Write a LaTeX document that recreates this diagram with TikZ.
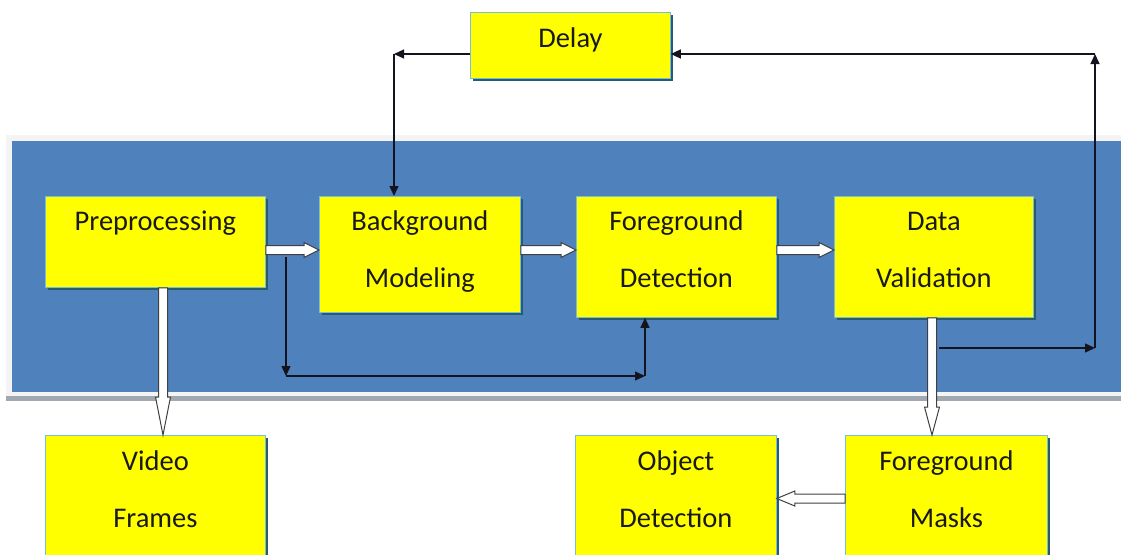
\documentclass[tikz,border=0pt]{standalone}
\usepackage{fontspec}
\setmainfont{Carlito}
\usetikzlibrary{calc,arrows.meta,shadows}

\definecolor{bandblue}{RGB}{79,129,189}
\definecolor{bandedge}{RGB}{244,244,244}
\definecolor{bandshade}{RGB}{160,168,178}
\definecolor{boxfill}{RGB}{255,255,0}
\definecolor{boxline}{RGB}{120,190,220}
\definecolor{boxshade}{RGB}{40,92,108}
\definecolor{wire}{RGB}{20,20,30}

\begin{document}
\begin{tikzpicture}[x=1pt,y=-1pt,
  box/.style={draw=boxline, fill=boxfill, line width=0.8pt, anchor=north west,
    inner sep=0pt,
    general shadow={fill=boxshade, shadow xshift=3pt, shadow yshift=-3pt}},
  lbl/.style={font=\fontsize{28.5pt}{34pt}\selectfont, anchor=base,
    inner sep=0pt, text=black!90},
  conn/.style={draw=wire, line width=1.3pt, -{Triangle[length=10pt,width=9pt]}},
  blockarrow/.style={draw=black!75, fill=white, line width=1pt,
    to path={
      ($(\tikztostart)!4.5pt!90:(\tikztotarget)$)
      -- ($(\tikztotarget)!#1!(\tikztostart)!4.5pt!-90:(\tikztostart)$)
      -- ($(\tikztotarget)!#1!(\tikztostart)!7.5pt!-90:(\tikztostart)$)
      -- (\tikztotarget)
      -- ($(\tikztotarget)!#1!(\tikztostart)!7.5pt!90:(\tikztostart)$)
      -- ($(\tikztotarget)!#1!(\tikztostart)!4.5pt!90:(\tikztostart)$)
      -- ($(\tikztostart)!4.5pt!-90:(\tikztotarget)$)
      -- cycle}},
  blockarrow/.default=15pt]

\useasboundingbox (0,0) rectangle (1121,554);

% blue processing band with its light frame and lower shade
\fill[bandshade] (6,139) rectangle (1126,401);
\fill[bandedge] (6,135) rectangle (1126,396);
\fill[bandblue] (12,141) rectangle (1126,392);

% boxes
\node[box, minimum width=200pt, minimum height=66pt]  (delay) at (470,12)  {};
\node[box, minimum width=220pt, minimum height=91pt]  (pre)   at (45,196)  {};
\node[box, minimum width=201pt, minimum height=116pt] (bm)    at (319,196) {};
\node[box, minimum width=200pt, minimum height=121pt] (fd)    at (576,196) {};
\node[box, minimum width=199pt, minimum height=121pt] (dv)    at (834,196) {};
\node[box, minimum width=220pt, minimum height=130pt] (vf)    at (45,435)  {};
\node[box, minimum width=201pt, minimum height=130pt] (od)    at (575,435) {};
\node[box, minimum width=202pt, minimum height=130pt] (fm)    at (845,435) {};

% labels
\node[lbl] (delay-t) at ($(delay.north)+(0,35)$)  {Delay};
\node[lbl] (pre-t)   at ($(pre.north)+(0,34.5)$)  {Preprocessing};
\node[lbl] (bm-t1)   at ($(bm.north)+(0,34.5)$)   {Background};
\node[lbl] (bm-t2)   at ($(bm.north)+(0,91.5)$)   {Modeling};
\node[lbl] (fd-t1)   at ($(fd.north)+(0,34.5)$)   {Foreground};
\node[lbl] (fd-t2)   at ($(fd.north)+(0,91.5)$)   {Detection};
\node[lbl] (dv-t1)   at ($(dv.north)+(0,34.5)$)   {Data};
\node[lbl] (dv-t2)   at ($(dv.north)+(0,91.5)$)   {Validation};
\node[lbl] (vf-t1)   at ($(vf.north)+(0,35)$)     {Video};
\node[lbl] (vf-t2)   at ($(vf.north)+(0,92)$)     {Frames};
\node[lbl] (od-t1)   at ($(od.north)+(0,35)$)     {Object};
\node[lbl] (od-t2)   at ($(od.north)+(0,92)$)     {Detection};
\node[lbl] (fm-t1)   at ($(fm.north)+(0,35)$)     {Foreground};
\node[lbl] (fm-t2)   at ($(fm.north)+(0,92)$)     {Masks};

% levels and corner points of the wiring
\coordinate (row)  at (0,250);
\coordinate (orow) at (0,498.5);
\coordinate (vx)   at (163,0);
\coordinate (mx)   at (932,0);
\coordinate (dl1)  at (394,54);
\coordinate (lp1)  at (286,257);
\coordinate (lp2)  at (286,376);
\coordinate (lp3)  at (645,376);
\coordinate (rl1)  at (939,348);
\coordinate (rl2)  at (1095,348);
\coordinate (rl3)  at (1095,54);

% block arrows of the main flow
\coordinate (a1s) at (pre.east |- row); \coordinate (a1e) at (bm.west |- row);
\coordinate (a2s) at (bm.east |- row);  \coordinate (a2e) at (fd.west |- row);
\coordinate (a3s) at (fd.east |- row);  \coordinate (a3e) at (dv.west |- row);
\coordinate (a4s) at (pre.south -| vx); \coordinate (a4e) at (vf.north -| vx);
\coordinate (a5s) at (dv.south -| mx);  \coordinate (a5e) at (fm.north -| mx);
\coordinate (a6s) at (fm.west |- orow); \coordinate (a6e) at (od.east |- orow);

\draw[blockarrow] (a1s) to (a1e);
\draw[blockarrow] (a2s) to (a2e);
\draw[blockarrow] (a3s) to (a3e);
\draw[blockarrow=38pt] (a4s) to (a4e);
\draw[blockarrow=28pt] (a5s) to (a5e);
\draw[blockarrow=18pt] (a6s) to (a6e);

% delay feedback into background modeling
\draw[conn] (delay.west |- dl1) -- (dl1);
\draw[conn] (dl1) -- (bm.north -| dl1);

% bypass from preprocessing into foreground detection
\draw[conn] (lp1) -- (lp2);
\draw[conn] (lp2) -- (lp3);
\draw[conn] (lp3) -- (fd.south -| lp3);

% validated data back into the delay
\draw[conn] (rl1) -- (rl2);
\draw[conn] (rl2) -- (rl3);
\draw[conn] (rl3) -- (delay.east |- rl3);

\end{tikzpicture}
\end{document}
